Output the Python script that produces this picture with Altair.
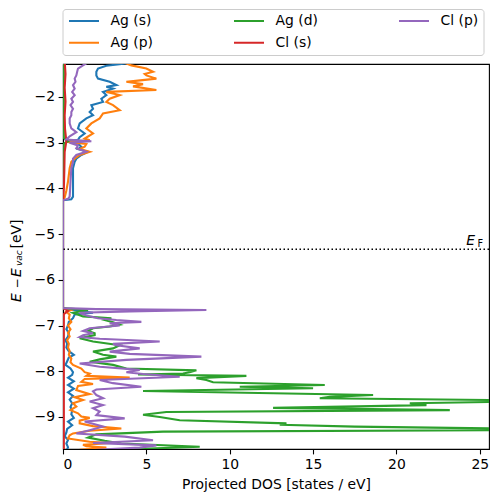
import altair as alt
import pandas as pd

# ---------------- data ----------------
EF = -5.33

ag_s_energy = [-1.25, -1.32, -1.38, -1.45, -1.53, -1.60, -1.67, -1.74, -1.78, -1.82, -1.89, -1.96, -2.04, -2.11,
               -2.18, -2.26, -2.33, -2.40, -2.47, -2.58, -2.69, -2.80, -2.88, -2.94, -2.98, -3.02, -3.09, -3.14,
               -3.20, -3.27, -3.35, -3.42, -3.56, -3.85, -4.18, -4.24, -4.26,
               -6.62, -6.66, -6.72, -6.76, -6.84, -6.92, -7.00, -7.08, -7.16, -7.24, -7.32, -7.40, -7.48, -7.56,
               -7.64, -7.70, -7.78, -7.86, -7.94, -8.02, -8.08, -8.14, -8.22, -8.30, -8.38, -8.46, -8.54, -8.62,
               -8.70, -8.78, -8.86, -8.94, -9.02, -9.10, -9.18, -9.26, -9.34, -9.42, -9.50, -9.58, -9.66, -9.75]
ag_s_dos = [4.2, 2.6, 2.1, 2.0, 2.0, 2.1, 2.8, 3.2, 2.6, 3.0, 2.4, 2.6, 2.3, 2.4,
            1.7, 1.8, 1.6, 1.8, 1.4, 1.0, 0.9, 1.3, 1.0, 0.9, 0.2, 0.9, 1.1, 0.9,
            1.5, 1.1, 0.8, 0.7, 0.6, 0.6, 0.6, 0.5, 0.0,
            0.0, 0.6, 1.8, 0.7, 0.6, 0.35, 0.3, 0.2, 0.35, 0.3, 0.15, 0.25, 0.2, 0.35,
            0.65, 0.35, 0.25, 0.15, 0.45, 0.6, 0.55, 0.3, 0.65, 0.3, 0.65, 0.3, 0.6, 0.4,
            0.55, 0.45, 0.55, 0.5, 0.65, 0.3, 0.55, 0.25, 0.2, 0.1, 0.3, 0.2, 0.3, 0.2]

ag_p_energy = [-1.24, -1.31, -1.38, -1.45, -1.50, -1.53, -1.60, -1.67, -1.72, -1.77, -1.85, -1.89, -1.96, -2.04,
               -2.11, -2.18, -2.29, -2.36, -2.47, -2.58, -2.69, -2.80, -2.91, -2.95, -2.98, -3.03, -3.09, -3.14,
               -3.20, -3.27, -3.35, -3.42, -3.56, -3.85, -4.05, -4.20, -4.25,
               -6.62, -6.66, -6.70, -6.76, -6.84, -6.92, -7.00, -7.08, -7.16, -7.24, -7.32, -7.40, -7.48, -7.56,
               -7.64, -7.72, -7.80, -7.86, -7.94, -8.02, -8.05, -8.10, -8.14, -8.17, -8.23, -8.28, -8.32, -8.41,
               -8.50, -8.57, -8.63, -8.70, -8.77, -8.85, -8.92, -8.99, -9.02, -9.08, -9.14, -9.20, -9.25, -9.30,
               -9.36, -9.40, -9.47, -9.54, -9.57, -9.61, -9.64, -9.67, -9.72]
ag_p_dos = [3.6, 4.1, 5.0, 5.4, 4.9, 5.0, 5.6, 3.8, 4.8, 4.2, 5.6, 2.6, 3.4, 2.8,
            2.6, 3.0, 3.4, 2.4, 2.2, 1.7, 1.4, 1.8, 1.3, 1.6, 0.2, 1.4, 1.3, 1.0,
            1.6, 1.0, 0.7, 0.5, 0.4, 0.3, 0.2, 0.1, 0.0,
            0.0, 0.5, 0.2, 0.4, 0.35, 0.5, 0.3, 0.45, 0.3, 0.4, 0.25, 0.35, 0.3, 0.4,
            0.35, 0.5, 0.45, 0.6, 1.1, 1.3, 1.6, 1.4, 4.0, 1.3, 1.1, 1.8, 0.9, 0.8,
            1.6, 0.7, 1.2, 0.6, 0.8, 0.45, 0.9, 1.1, 1.6, 1.0, 1.0, 1.8, 3.5, 1.6,
            0.6, 0.4, 0.3, 1.6, 2.8, 1.2, 1.4, 2.6, 1.0]

ag_d_energy = [-1.20, -2.90, -2.97, -3.02, -4.25,
               -6.62, -6.66, -6.72, -6.80, -6.84, -6.88, -6.93, -6.98, -7.02, -7.06, -7.12, -7.17, -7.21,
               -7.28, -7.35, -7.43, -7.50, -7.57, -7.64, -7.68, -7.74, -7.79, -7.86, -7.94, -7.98, -8.02,
               -8.05, -8.07, -8.10, -8.15, -8.19, -8.24, -8.30, -8.34, -8.37, -8.43, -8.48, -8.52, -8.56,
               -8.59, -8.63, -8.67, -8.70, -8.74, -8.80, -8.85, -8.89, -8.95, -9.00, -9.07, -9.14, -9.17,
               -9.21, -9.25, -9.29, -9.32, -9.38, -9.45, -9.52, -9.58, -9.65, -9.72]
ag_d_dos = [0.05, 0.05, 0.3, 0.05, 0.0,
            0.0, 1.5, 0.6, 1.2, 2.9, 2.5, 3.0, 3.4, 2.8, 1.8, 1.5, 1.9, 1.9,
            1.0, 1.8, 3.4, 3.0, 1.8, 2.4, 3.2, 2.2, 1.6, 3.0, 3.8, 8.0, 7.6,
            7.2, 4.5, 11.0, 8.0, 8.6, 9.0, 15.7, 10.6, 15.0, 4.8, 12.6, 18.6, 16.0,
            15.4, 26.0, 26.0, 20.8, 21.8, 12.6, 23.2, 6.2, 4.8, 5.8, 7.0, 13.4, 13.0,
            17.5, 26.0, 26.0, 6.0, 2.0, 1.5, 2.5, 3.5, 8.2, 3.0]

cl_s_energy = [-1.20, -1.50, -1.80, -2.10, -2.40, -2.70, -2.97, -3.20, -3.60, -4.00, -4.25,
               -6.62, -6.68, -6.75, -9.75]
cl_s_dos = [0.10, 0.15, 0.10, 0.15, 0.10, 0.12, 0.20, 0.10, 0.08, 0.05, 0.0,
            0.0, 0.3, 0.05, 0.05]

cl_p_energy = [-1.22, -1.31, -1.38, -1.45, -1.53, -1.60, -1.67, -1.74, -1.82, -1.89, -1.96, -2.04, -2.11,
               -2.18, -2.26, -2.33, -2.40, -2.47, -2.58, -2.69, -2.77, -2.86, -2.93, -2.97, -3.00, -3.06,
               -3.12, -3.20, -3.27, -3.35, -3.42, -3.56, -3.85, -4.18, -4.23, -4.26,
               -6.62, -6.64, -6.66, -6.69, -6.72, -6.78, -6.84, -6.88, -6.92, -6.95, -7.00, -7.06, -7.12,
               -7.17, -7.21, -7.25, -7.29, -7.35, -7.40, -7.43, -7.50, -7.57, -7.62, -7.68, -7.75, -7.83,
               -7.90, -7.97, -8.02, -8.06, -8.12, -8.19, -8.26, -8.34, -8.40, -8.44, -8.52, -8.59, -8.66,
               -8.74, -8.81, -8.88, -8.96, -9.03, -9.10, -9.21, -9.29, -9.36, -9.43, -9.51, -9.57, -9.62,
               -9.67, -9.72]
cl_p_dos = [1.6, 1.2, 0.9, 0.85, 0.8, 0.7, 0.75, 0.6, 0.7, 0.55, 0.7, 0.5, 0.6,
            0.45, 0.6, 0.5, 0.5, 0.4, 0.4, 0.5, 0.8, 0.4, 0.2, 1.7, 0.4, 0.9,
            0.8, 1.4, 0.8, 0.6, 0.6, 0.5, 0.45, 0.4, 0.3, 0.0,
            0.0, 2.0, 8.6, 4.0, 1.0, 1.4, 2.1, 3.2, 4.7, 2.8, 3.4, 1.6, 1.2,
            1.8, 1.2, 1.0, 2.2, 5.8, 3.0, 3.2, 4.6, 2.8, 4.0, 8.3, 3.8, 1.0,
            2.2, 4.6, 3.8, 4.8, 7.0, 2.2, 3.0, 4.7, 2.0, 1.8, 2.0, 2.4, 1.6,
            2.4, 1.8, 2.2, 2.0, 3.7, 1.3, 2.4, 1.6, 0.8, 3.7, 5.4, 1.8, 5.6,
            4.6, 2.0]

series_names = ["Ag (s)", "Ag (p)", "Ag (d)", "Cl (s)", "Cl (p)"]          # drawing + legend order
series_colors = ["#1f77b4", "#ff7f0e", "#2ca02c", "#d62728", "#9467bd"]
series_energy = [ag_s_energy, ag_p_energy, ag_d_energy, cl_s_energy, cl_p_energy]
series_dos = [ag_s_dos, ag_p_dos, ag_d_dos, cl_s_dos, cl_p_dos]

x_ticks = [0, 5, 10, 15, 20, 25]
y_ticks = [-2, -3, -4, -5, -6, -7, -8, -9]
x_domain = [0, 25.55]
y_domain = [-9.7, -1.28]

FONT = "DejaVu Sans"
FS = 13.9

# ---------------- chart ----------------
color = alt.Color(
    "orbital:N",
    scale=alt.Scale(domain=series_names, range=series_colors),
    legend=alt.Legend(
        title=None, orient="none", legendX=-0.5, legendY=-55, columns=3,
        symbolType="stroke", symbolSize=900, symbolStrokeWidth=2.1, clipHeight=14,
        labelFont=FONT, labelFontSize=FS, labelColor="black", labelOffset=10,
        columnPadding=79, rowPadding=7.7, padding=5,
        strokeColor="#cccccc", fillColor="white", cornerRadius=3,
    ),
)
x_enc = alt.X(
    "dos:Q", scale=alt.Scale(domain=x_domain, nice=False, zero=False),
    axis=alt.Axis(values=x_ticks, title="Projected DOS [states / eV]", format="d"),
)
y_enc = alt.Y(
    "energy:Q", scale=alt.Scale(domain=y_domain, nice=False, zero=False),
    axis=alt.Axis(values=y_ticks, title=None, format="d"),
)

layers = []
for name, en, ds in zip(series_names, series_energy, series_dos):
    df = pd.DataFrame({"orbital": name, "energy": en, "dos": ds})
    layers.append(
        alt.Chart(df).mark_line(strokeWidth=2.1, clip=True).encode(
            x=x_enc, y=y_enc, color=color,
            order=alt.Order("energy:Q", sort="descending"),
        )
    )

ef_rule = alt.Chart().mark_rule(color="black", strokeWidth=1.5, strokeDash=[1.5, 2.5]).encode(
    y=alt.datum(EF)
)
ef_E = alt.Chart().mark_text(text="E", font=FONT, fontStyle="italic", fontSize=FS, align="right",
                             baseline="alphabetic", dx=-14, dy=-4, color="black").encode(
    x=alt.datum(x_domain[1]), y=alt.datum(EF))
ef_F = alt.Chart().mark_text(text="F", font=FONT, fontSize=9.7, align="right",
                             baseline="alphabetic", dx=-6, dy=-2.6, color="black").encode(
    x=alt.datum(x_domain[1]), y=alt.datum(EF))

# y-axis title  "E − E_vac [eV]"  (rotated)
yt = dict(font=FONT, angle=270, baseline="alphabetic", color="black")
yl1 = alt.Chart().mark_text(text="E", fontStyle="italic", fontSize=FS, align="left", **yt).encode(
    x=alt.value(-42), y=alt.value(238))
yl2 = alt.Chart().mark_text(text="\u2212", fontSize=12, align="center", **yt).encode(
    x=alt.value(-42.5), y=alt.value(219.5))
yl3 = alt.Chart().mark_text(text="E", fontStyle="italic", fontSize=FS, align="left", **yt).encode(
    x=alt.value(-42), y=alt.value(213))
yl4 = alt.Chart().mark_text(text="vac", fontStyle="italic", fontSize=9, align="left", **yt).encode(
    x=alt.value(-41.2), y=alt.value(202))
yl5 = alt.Chart().mark_text(text="[eV]", fontSize=FS, align="left", **yt).encode(
    x=alt.value(-42), y=alt.value(184.5))

chart = alt.layer(*layers, ef_rule, ef_E, ef_F, yl1, yl2, yl3, yl4, yl5).properties(
    width=426, height=385,
    autosize=alt.AutoSizeParams(type="none"),
    padding={"left": 55, "top": 56, "right": 1, "bottom": 45},
).configure_view(
    stroke="black", strokeWidth=1.1,
).configure_axis(
    grid=False, domainColor="black", domainWidth=1.1, tickColor="black", tickWidth=1.1,
    tickSize=4.9, labelFont=FONT, labelFontSize=FS, labelColor="black", labelPadding=3.5,
    titleFont=FONT, titleFontSize=FS, titleFontWeight="normal", titleColor="black",
    titlePadding=6, zindex=1,
)

chart.save("out.html", embed_options={"renderer": "svg", "actions": False})
